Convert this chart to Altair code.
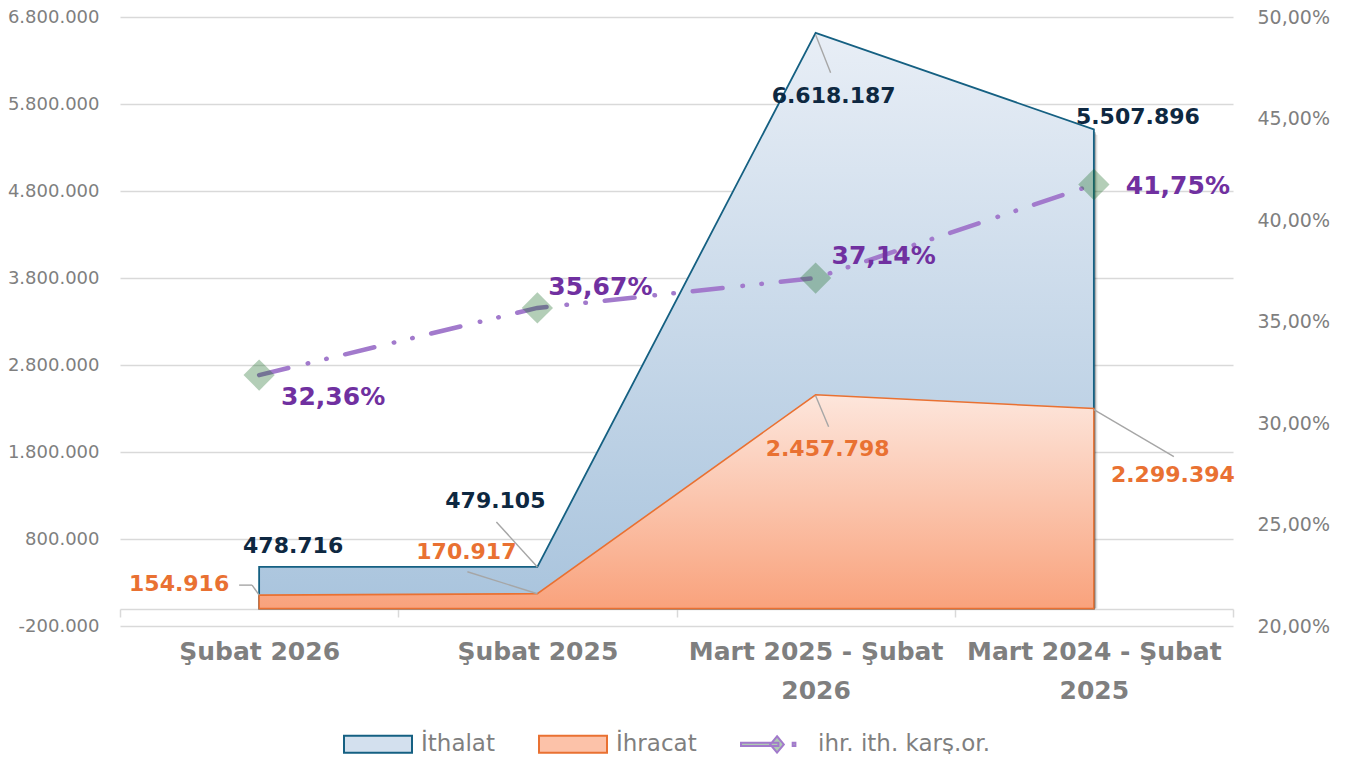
import altair as alt
import pandas as pd

# ---------------- data ----------------
CATEGORIES = ["Şubat 2026", "Şubat 2025", "Mart 2025 - Şubat 2026", "Mart 2024 - Şubat 2025"]
ITHALAT = [478716, 479105, 6618187, 5507896]
IHRACAT = [154916, 170917, 2457798, 2299394]
ORAN = [0.3236, 0.3567, 0.3714, 0.4175]
SERIES = ["İthalat", "İhracat", "ihr. ith. karş.or."]
LEFT_TICKS = [-200000, 800000, 1800000, 2800000, 3800000, 4800000, 5800000, 6800000]
RIGHT_TICKS = [0.20, 0.25, 0.30, 0.35, 0.40, 0.45, 0.50]


def tr_int(v):
    return f"{v:,}".replace(",", ".")


def tr_pct(v):
    return f"{v * 100:.2f}%".replace(".", ",")


df = pd.DataFrame({"kategori": CATEGORIES, "ithalat": ITHALAT, "ihracat": IHRACAT, "oran": ORAN})
df["ith_lbl"] = [tr_int(v) for v in ITHALAT]
df["ihr_lbl"] = [tr_int(v) for v in IHRACAT]
df["oran_lbl"] = [tr_pct(v) for v in ORAN]
legend_df = pd.DataFrame({"seri": SERIES})

# ---------------- styles ----------------
FONT = "DejaVu Sans"
GREY = "#7f7f7f"
GRID = "#d9d9d9"
ITH_LINE = "#156082"
IHR_LINE = "#e97132"
ITH_TEXT = "#0e2841"
IHR_TEXT = "#e97132"
PCT_TEXT = "#7030a0"
PURPLE = "#a27acc"
LEADER = "#a6a6a6"

# label offsets (dx, dy) relative to the data point
ITH_OFF = [(34, -21), (-42, -66), (18, 63), (44, -12)]
IHR_OFF = [(-80, -11), (-71, -42), (12, 54), (79, 66)]
PCT_OFF = [(74, 22), (63, -21), (68, -22), (84, 2)]
# leader segments ((x0, y0), (x1, y1)) relative to the data point
ITH_LEAD = [[], [((0, 0), (-41, -45))], [((0, 2), (15, 40))], []]
IHR_LEAD = [[((0, 0), (-7, -10)), ((-7, -10), (-20, -10))],
            [((0, 0), (-70, -22))],
            [((0, 1), (13, 32))],
            [((0, 1), (80, 48))]]

x_enc = alt.X(
    "kategori:N", sort=CATEGORIES, bandPosition=0.5,
    scale=alt.Scale(type="band", domain=CATEGORIES, paddingInner=0, paddingOuter=0),
    axis=alt.Axis(
        title=None, labelAngle=0, labelFont=FONT, labelFontWeight="bold", labelFontSize=25,
        labelColor=GREY, labelLimit=600, labelOverlap=False,
        labelExpr="length(datum.label) > 12 ? [slice(datum.label, 0, lastindexof(datum.label, ' ')), "
                  "slice(datum.label, lastindexof(datum.label, ' ') + 1)] : datum.label",
        labelLineHeight=39, labelPadding=22, offset=-17,
        domainColor=GRID, domainWidth=1.5, tickColor=GRID, tickWidth=1.5, tickSize=8,
        tickBand="extent", grid=False,
    ),
)
x2_enc = alt.X2("kategori:N", bandPosition=0.5)

yl_scale = alt.Scale(domain=[-200000, 6800000], nice=False, zero=False)
yl_axis = alt.Axis(
    title=None, values=LEFT_TICKS,
    labelExpr="(datum.value < 0 ? '-' : '') + replace(format(abs(datum.value), ','), regexp(',', 'g'), '.')",
    labelFont=FONT, labelFontSize=18, labelColor=GREY, labelPadding=21,
    ticks=False, domain=False, grid=True, gridColor=GRID, gridWidth=1.5,
)
yr_scale = alt.Scale(domain=[0.2, 0.5], nice=False, zero=False)
yr_axis = alt.Axis(
    orient="right", title=None, values=RIGHT_TICKS,
    labelExpr="replace(format(datum.value, '.2%'), '.', ',')",
    labelFont=FONT, labelFontSize=19, labelColor=GREY, labelPadding=24,
    ticks=False, domain=False, grid=False,
)


def yl(col):
    return alt.Y(f"{col}:Q", scale=yl_scale, axis=yl_axis)


def yr(col):
    return alt.Y(f"{col}:Q", scale=yr_scale, axis=yr_axis)


base = alt.Chart(df)

ith_grad = {"gradient": "linear", "x1": 0, "y1": 0, "x2": 0, "y2": 1,
            "stops": [{"offset": 0, "color": "#e8eef6"}, {"offset": 1, "color": "#a9c4dd"}]}
ihr_grad = {"gradient": "linear", "x1": 0, "y1": 0, "x2": 0, "y2": 1,
            "stops": [{"offset": 0, "color": "#fde6dc"}, {"offset": 1, "color": "#f9a27c"}]}

shadow1 = base.mark_area(color="#000000", opacity=0.12, xOffset=3.5, yOffset=5.5).encode(
    x=x_enc, y=yl("ithalat"), y2=alt.datum(0))
shadow2 = base.mark_area(color="#000000", opacity=0.25, xOffset=2, yOffset=3).encode(
    x=x_enc, y=yl("ithalat"), y2=alt.datum(0))
ith_area = base.mark_area(fill=ith_grad, stroke=ITH_LINE, strokeWidth=1.8).encode(
    x=x_enc, y=yl("ithalat"), y2=alt.datum(0))
ihr_area = base.mark_area(fill=ihr_grad, stroke=IHR_LINE, strokeWidth=1.6).encode(
    x=x_enc, y=yl("ihracat"), y2=alt.datum(0))

left_layers = [shadow1, shadow2, ith_area, ihr_area]


def leaders(col, segs, i, yfun):
    out = []
    for (a, b) in segs:
        out.append(
            base.transform_filter(alt.datum.kategori == CATEGORIES[i]).mark_rule(
                color=LEADER, strokeWidth=1.4,
                xOffset=a[0], yOffset=a[1], x2Offset=b[0], y2Offset=b[1],
            ).encode(x=x_enc, x2=x2_enc, y=yfun(col), y2=alt.Y2(f"{col}:Q"))
        )
    return out


def label(col, lbl, i, off, color, size, yfun):
    return base.transform_filter(alt.datum.kategori == CATEGORIES[i]).mark_text(
        dx=off[0], dy=off[1], align="center", baseline="middle",
        font=FONT, fontWeight="bold", fontSize=size, color=color,
    ).encode(x=x_enc, y=yfun(col), text=f"{lbl}:N")


for i in range(len(CATEGORIES)):
    left_layers += leaders("ithalat", ITH_LEAD[i], i, yl)
    left_layers += leaders("ihracat", IHR_LEAD[i], i, yl)
for i in range(len(CATEGORIES)):
    left_layers.append(label("ithalat", "ith_lbl", i, ITH_OFF[i], ITH_TEXT, 22, yl))
    left_layers.append(label("ihracat", "ihr_lbl", i, IHR_OFF[i], IHR_TEXT, 22, yl))

# legend driver (no marks drawn, only the legend from explicit scale domains)
RECT = "M-1,-0.25H1V0.25H-1Z"
LINE_SYM = ("M-1,-0.05H0.1V0.05H-1Z M0.06,-0.24L0.26,0L0.06,0.24L-0.14,0Z "
            "M0.52,-0.05H0.6V0.05H0.52Z")
leg = alt.Legend(
    title=None, orient="none", legendX=223, legendY=692, direction="horizontal",
    symbolSize=4624, symbolStrokeWidth=2, symbolOpacity=1, labelFont=FONT, labelFontSize=23,
    labelColor=GREY, labelOffset=8, labelLimit=500, columnPadding=40, padding=0,
)
legend_layer = alt.Chart(legend_df).transform_filter("false").mark_point(
    filled=True, opacity=1
).encode(
    fill=alt.Fill("seri:N", scale=alt.Scale(domain=SERIES, range=["#d3e0ee", "#fcc2a9", "#afcbb2"]), legend=leg),
    stroke=alt.Stroke("seri:N", scale=alt.Scale(domain=SERIES, range=[ITH_LINE, IHR_LINE, PURPLE]), legend=leg),
    shape=alt.Shape("seri:N", scale=alt.Scale(domain=SERIES, range=[RECT, RECT, LINE_SYM]), legend=leg),
)
left_layers.append(legend_layer)

left = alt.layer(*left_layers)

ratio_line = base.mark_line(
    color=PURPLE, strokeWidth=4.5, strokeDash=[30, 20, 0.5, 18.5, 0.5, 19], strokeCap="round"
).encode(x=x_enc, y=yr("oran"))
ratio_pts = base.mark_point(
    shape="diamond", filled=True, size=980, color="#196b24", opacity=0.33, strokeWidth=0
).encode(x=x_enc, y=yr("oran"))
right_layers = [ratio_line, ratio_pts]
for i in range(len(CATEGORIES)):
    right_layers.append(label("oran", "oran_lbl", i, PCT_OFF[i], PCT_TEXT, 25, yr))
right = alt.layer(*right_layers)

chart = (
    alt.layer(left, right)
    .resolve_scale(y="independent")
    .properties(
        width=1113, height=609,
        autosize=alt.AutoSizeParams(type="none"),
        padding={"left": 112, "top": 9, "right": 106, "bottom": 128},
        background="white",
    )
    .configure_view(stroke=None)
)

chart.save("out.html", embed_options={"renderer": "svg", "actions": False})
